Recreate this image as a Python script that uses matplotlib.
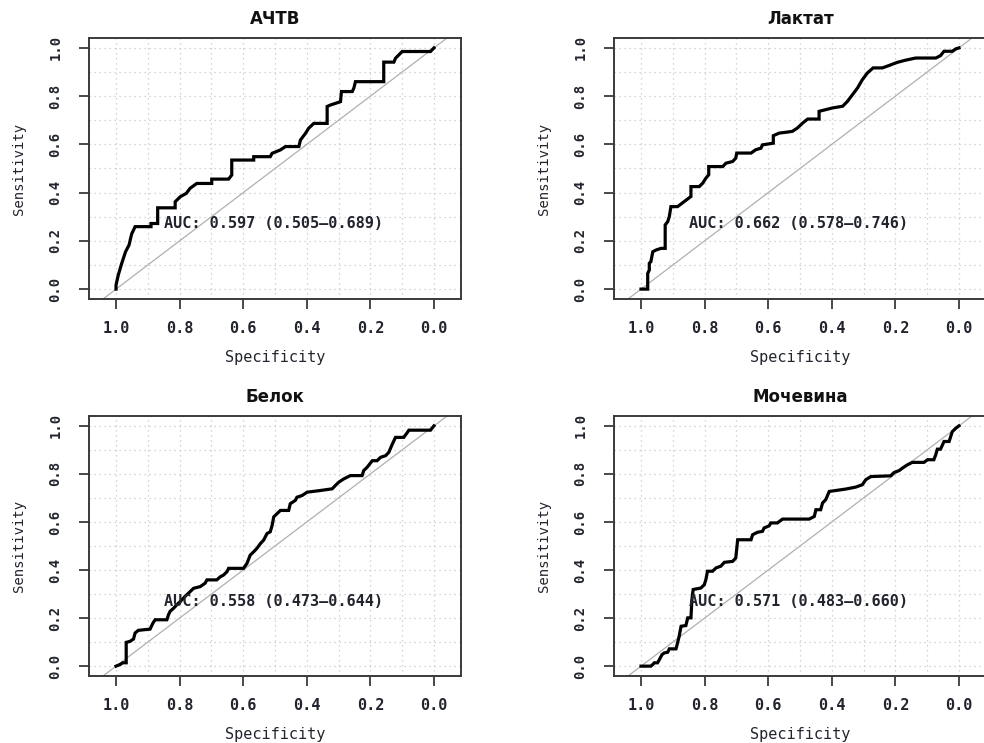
import numpy as np
import matplotlib.pyplot as plt
from matplotlib.ticker import MultipleLocator

titles = ["АЧТВ", "Лактат", "Белок", "Мочевина"]
auc_labels = ["AUC: 0.597 (0.505\u20130.689)",
              "AUC: 0.662 (0.578\u20130.746)",
              "AUC: 0.558 (0.473\u20130.644)",
              "AUC: 0.571 (0.483\u20130.660)"]

# ROC points (specificity, sensitivity)
achtv_spec = [1.0, 1.0, 0.993, 0.982, 0.970, 0.959, 0.951, 0.940, 0.890, 0.890, 0.869, 0.869,
              0.814, 0.814, 0.798, 0.779, 0.767, 0.746, 0.699, 0.699, 0.646, 0.636, 0.636, 0.567,
              0.567, 0.515, 0.509, 0.483, 0.467, 0.425, 0.420, 0.404, 0.394, 0.378, 0.336, 0.336,
              0.326, 0.294, 0.291, 0.257, 0.252, 0.247, 0.158, 0.158, 0.126, 0.121, 0.100, 0.011, 0.0]
achtv_sens = [0.0, 0.017, 0.058, 0.107, 0.155, 0.183, 0.228, 0.259, 0.259, 0.272, 0.272, 0.337,
              0.337, 0.362, 0.383, 0.397, 0.418, 0.438, 0.438, 0.456, 0.456, 0.473, 0.535, 0.535,
              0.549, 0.549, 0.563, 0.577, 0.591, 0.591, 0.618, 0.646, 0.667, 0.687, 0.687, 0.757,
              0.763, 0.777, 0.819, 0.819, 0.833, 0.860, 0.860, 0.941, 0.941, 0.957, 0.985, 0.985, 1.0]

laktat_spec = [1.0, 0.979, 0.979, 0.974, 0.974, 0.969, 0.963, 0.953, 0.937, 0.924, 0.924, 0.916,
               0.911, 0.906, 0.885, 0.864, 0.843, 0.843, 0.817, 0.806, 0.796, 0.787, 0.787, 0.743,
               0.733, 0.712, 0.702, 0.699, 0.654, 0.639, 0.623, 0.618, 0.584, 0.584, 0.565, 0.545,
               0.524, 0.508, 0.492, 0.476, 0.440, 0.440, 0.419, 0.398, 0.366, 0.351, 0.335, 0.319,
               0.304, 0.288, 0.270, 0.241, 0.220, 0.194, 0.168, 0.136, 0.073, 0.058, 0.047, 0.021,
               0.010, 0.0]
laktat_sens = [0.0, 0.0, 0.065, 0.079, 0.107, 0.114, 0.155, 0.162, 0.169, 0.169, 0.266, 0.280,
               0.301, 0.342, 0.342, 0.363, 0.384, 0.425, 0.425, 0.439, 0.460, 0.474, 0.508, 0.508,
               0.522, 0.529, 0.543, 0.564, 0.564, 0.578, 0.584, 0.598, 0.605, 0.636, 0.647, 0.650,
               0.654, 0.668, 0.688, 0.705, 0.705, 0.737, 0.744, 0.751, 0.758, 0.778, 0.806, 0.834,
               0.868, 0.896, 0.917, 0.917, 0.927, 0.940, 0.949, 0.958, 0.958, 0.968, 0.986, 0.986,
               0.996, 1.0]

belok_spec = [1.0, 0.987, 0.979, 0.968, 0.968, 0.956, 0.945, 0.940, 0.930, 0.893, 0.884, 0.877,
              0.840, 0.835, 0.830, 0.819, 0.809, 0.798, 0.783, 0.767, 0.756, 0.735, 0.720, 0.714,
              0.683, 0.672, 0.662, 0.651, 0.646, 0.599, 0.588, 0.578, 0.567, 0.557, 0.546, 0.536,
              0.525, 0.515, 0.509, 0.504, 0.494, 0.483, 0.457, 0.452, 0.436, 0.431, 0.415, 0.399,
              0.357, 0.320, 0.310, 0.299, 0.284, 0.263, 0.226, 0.221, 0.210, 0.194, 0.179, 0.168,
              0.152, 0.142, 0.131, 0.121, 0.095, 0.084, 0.079, 0.011, 0.0]
belok_sens = [0.0, 0.007, 0.014, 0.014, 0.099, 0.103, 0.113, 0.138, 0.149, 0.154, 0.179, 0.193,
              0.193, 0.214, 0.228, 0.241, 0.255, 0.269, 0.290, 0.310, 0.324, 0.331, 0.345, 0.359,
              0.359, 0.372, 0.379, 0.393, 0.407, 0.407, 0.428, 0.462, 0.476, 0.490, 0.510, 0.524,
              0.552, 0.559, 0.586, 0.621, 0.634, 0.648, 0.648, 0.676, 0.690, 0.703, 0.710, 0.724,
              0.731, 0.738, 0.752, 0.766, 0.779, 0.793, 0.793, 0.814, 0.828, 0.855, 0.855, 0.869,
              0.876, 0.890, 0.924, 0.952, 0.952, 0.972, 0.982, 0.982, 1.0]

mochevina_spec = [1.0, 0.969, 0.963, 0.958, 0.948, 0.942, 0.934, 0.927, 0.916, 0.911, 0.890, 0.885,
                  0.880, 0.874, 0.859, 0.853, 0.843, 0.840, 0.836, 0.812, 0.801, 0.796, 0.791, 0.775,
                  0.764, 0.749, 0.738, 0.712, 0.702, 0.696, 0.654, 0.649, 0.634, 0.618, 0.613, 0.597,
                  0.592, 0.571, 0.555, 0.471, 0.455, 0.450, 0.435, 0.429, 0.419, 0.408, 0.356, 0.325,
                  0.304, 0.293, 0.277, 0.215, 0.204, 0.188, 0.178, 0.162, 0.147, 0.110, 0.099, 0.079,
                  0.073, 0.068, 0.058, 0.047, 0.031, 0.021, 0.010, 0.0]
mochevina_sens = [0.0, 0.0, 0.007, 0.014, 0.014, 0.028, 0.048, 0.055, 0.058, 0.072, 0.072, 0.097,
                  0.125, 0.166, 0.169, 0.201, 0.201, 0.277, 0.319, 0.325, 0.339, 0.360, 0.395, 0.395,
                  0.409, 0.416, 0.432, 0.436, 0.450, 0.526, 0.526, 0.547, 0.557, 0.561, 0.575, 0.584,
                  0.596, 0.596, 0.612, 0.612, 0.623, 0.651, 0.651, 0.679, 0.693, 0.727, 0.737, 0.745,
                  0.755, 0.776, 0.789, 0.792, 0.806, 0.814, 0.824, 0.838, 0.848, 0.848, 0.859, 0.859,
                  0.880, 0.903, 0.903, 0.935, 0.935, 0.976, 0.990, 1.0]

specs = [achtv_spec, laktat_spec, belok_spec, mochevina_spec]
senss = [achtv_sens, laktat_sens, belok_sens, mochevina_sens]

W, H = 984, 743
# axes boxes in pixels: left, top, right, bottom (right column is cut by the image edge)
boxes = [(89, 38, 461, 299), (614, 38, 987, 299),
         (89, 416, 461, 676), (614, 416, 987, 676)]

mono = "DejaVu Sans Mono"
txt_col = "#22252e"

fig = plt.figure(figsize=(W / 100, H / 100), dpi=100)

for i in range(4):
    l, t, r, b = boxes[i]
    ax = fig.add_axes([l / W, 1 - b / H, (r - l) / W, (b - t) / H])
    # keep the same data scale in the wider right-column boxes
    x_right = -0.085 - (r - l - 372) / 317.5
    ax.set_xlim(1.085, x_right)
    ax.set_ylim(-0.041, 1.041)

    ax.xaxis.set_minor_locator(MultipleLocator(0.1))
    ax.yaxis.set_minor_locator(MultipleLocator(0.1))
    ax.grid(which="both", color="#c8c8c8", linestyle=(0, (1, 3)), linewidth=0.9)
    ax.set_axisbelow(True)

    ax.axline((1, 0), (0, 1), color="#b0b0b0", linewidth=0.9, zorder=2)
    ax.plot(specs[i], senss[i], color="black", linewidth=2.3, zorder=3,
            solid_joinstyle="miter")

    ax.text(0.85, 0.27, auc_labels[i], family=mono, fontsize=11, fontweight="bold",
            color=txt_col, ha="left", va="center", zorder=4)

    for s in ax.spines.values():
        s.set_color("#3a3a3a")
        s.set_linewidth(1.4)
    if r > W:
        ax.spines["right"].set_visible(False)
    ax.tick_params(which="major", direction="out", length=7, width=1.3,
                   color="#3a3a3a", labelcolor=txt_col)
    ax.tick_params(which="minor", length=0)
    ax.tick_params(axis="x", labelsize=11, pad=9)
    ax.tick_params(axis="y", labelsize=10, labelrotation=90, pad=12)
    ticks = np.arange(0, 1.01, 0.2)
    ax.set_xticks(ticks, [f"{v:.1f}" for v in ticks])
    ax.set_yticks(ticks, [f"{v:.1f}" for v in ticks])
    for lab in ax.get_xticklabels() + ax.get_yticklabels():
        lab.set_family(mono)
        lab.set_fontweight("bold")
    for lab in ax.get_yticklabels():
        lab.set_va("center")

    ax.set_xlabel("Specificity", family=mono, fontsize=11, color=txt_col, labelpad=10)
    ax.set_ylabel("Sensitivity", family=mono, fontsize=10, color=txt_col, labelpad=16)
    ax.set_title(titles[i], fontsize=12, fontweight="bold", color="#111111", pad=10)

fig.savefig("out.png", dpi=100)
